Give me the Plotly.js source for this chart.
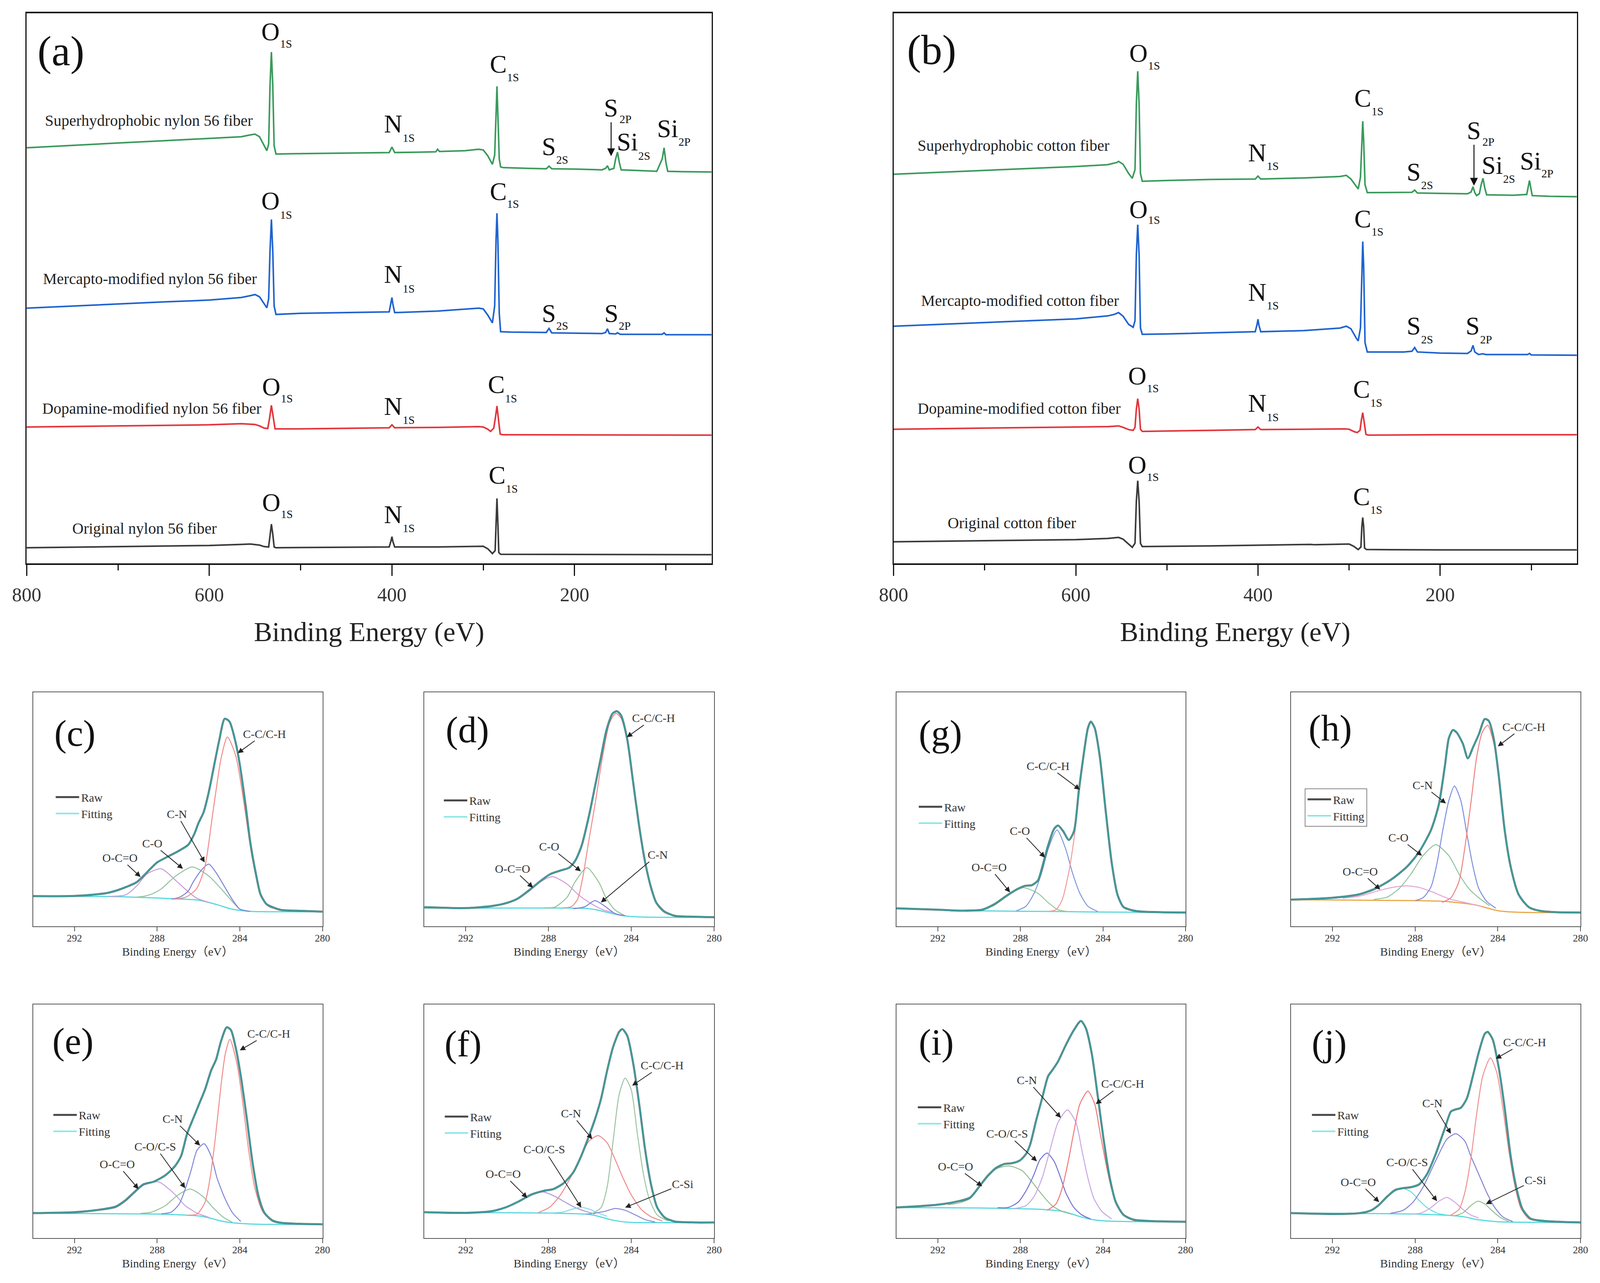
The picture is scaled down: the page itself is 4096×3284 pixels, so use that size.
<!DOCTYPE html>
<html><head><meta charset="utf-8">
<script src="https://cdn.plot.ly/plotly-3.0.1.min.js"></script>
<style>html,body{margin:0;padding:0;background:#fff}#chart{width:4096px;height:3284px}</style>
</head><body><div id="chart"></div>
<script>
// ===== DATA =====
// Survey spectra: [binding energy (eV), intensity (a.u., stacked offset)]
const nylonSuper = [[800,1130],[750,1137],[700,1143],[650,1149],[600,1155],[565,1160],[555,1165],[550,1167],[545,1160],[540,1135],[537,1122],[535,1140],[533.5,1300],[532,1390],[530.5,1300],[529,1135],[527,1113],[500,1114],[450,1116],[403,1117],[400,1132],[397,1117],[370,1118],[352,1119],[350,1126],[348,1120],[320,1122],[305,1126],[300,1124],[295,1108],[290,1085],[287.5,1110],[286,1220],[285,1297],[284,1220],[282.5,1100],[281,1078],[278,1076],[250,1074],[231,1073],[228,1080],[225,1073],[200,1072],[170,1070],[166,1074],[164,1081],[162,1070],[157,1074],[155,1100],[153,1118],[151,1090],[149,1070],[130,1068],[110,1066],[104,1100],[102,1130],[100,1090],[98,1066],[80,1065],[50,1064]];
const nylonMercapto = [[800,694],[750,700],[700,705],[650,711],[600,716],[565,723],[555,728],[550,731],[545,725],[540,705],[537,695],[535,720],[533.5,850],[532,935],[530.5,850],[529,700],[527,677],[500,680],[450,682],[403,684],[401,710],[400,723],[399,705],[397,682],[350,686],[305,694],[300,692],[295,675],[290,654],[287.5,700],[286,880],[285,952],[284,880],[282.5,680],[281,630],[270,629],[231,628],[228,639],[225,627],[200,626],[170,625],[166,628],[164,638],[162,625],[155,624],[153,627],[150,623],[104,623],[102,627],[100,622],[50,622]];
const nylonDopamine = [[800,371],[700,374],[600,377],[565,380],[550,378],[545,374],[540,368],[536,367],[534,395],[532,430],[530,395],[528,366],[500,366],[450,367],[403,369],[400,377],[397,369],[350,370],[305,372],[300,371],[295,365],[292,359],[288.5,368],[286.5,400],[285,428],[283.5,395],[281.5,352],[279,350],[200,350],[100,349],[50,349]];
const nylonOriginal = [[800,43],[700,46],[600,49],[565,52],[555,53],[545,50],[540,46],[535,45],[533.5,80],[532,107],[530.5,80],[529,45],[527,43],[450,44],[403,45],[401,62],[400,73],[399,60],[397,45],[350,45],[305,47],[300,47],[295,40],[290,27],[287,35],[286,110],[285,177],[284,110],[283,30],[281,25],[200,25],[100,24],[50,24]];
const cottonSuper = [[800,1058],[700,1068],[600,1079],[565,1084],[555,1090],[553,1093],[548,1085],[542,1060],[538,1047],[535,1070],[533.5,1250],[532,1338],[530.5,1250],[529,1060],[527,1039],[500,1041],[450,1044],[403,1045],[400,1053],[397,1045],[350,1048],[310,1052],[303,1055],[298,1045],[292,1025],[290,1018],[287.5,1050],[286,1150],[285,1202],[284,1150],[282.5,1030],[280,1008],[240,1008],[231,1009],[228,1015],[225,1007],[200,1006],[170,1005],[166,1010],[164,1024],[162,1008],[160,1000],[157,1005],[155,1030],[153,1047],[151,1020],[149,1002],[120,1001],[105,1003],[102,1041],[99,1000],[80,998],[50,997]];
const cottonMercapto = [[800,645],[700,655],[600,665],[565,673],[558,677],[553,682],[548,672],[542,650],[537,642],[535,660],[533.5,840],[532,921],[530.5,840],[529,640],[527,623],[500,624],[450,627],[403,630],[401,650],[400,664],[399,648],[397,630],[350,633],[310,640],[303,645],[298,638],[292,612],[290,605],[287.5,640],[286,810],[285,875],[284,810],[282.5,600],[280,575],[240,575],[231,577],[228,587],[225,575],[200,572],[170,571],[166,578],[164,593],[162,575],[158,568],[153,570],[150,568],[104,568],[102,571],[100,567],[50,566]];
const cottonDopamine = [[800,365],[700,368],[600,370],[565,372],[553,374],[548,370],[542,364],[537,362],[535,370],[533.5,420],[532,448],[530.5,420],[529,365],[527,359],[450,362],[403,364],[400,371],[397,364],[350,365],[305,366],[300,365],[294,358],[291,356],[288,362],[286.5,390],[285,410],[283.5,385],[281.5,351],[279,349],[200,350],[100,350],[50,350]];
const cottonOriginal = [[800,59],[700,62],[600,65],[565,68],[553,71],[548,66],[542,52],[538,44],[535,55],[533.5,170],[532,225],[530.5,170],[529,55],[527,46],[450,48],[350,51],[342,52],[338,51],[305,53],[300,53],[295,47],[290,38],[287,45],[286,100],[285,125],[284,100],[283,42],[281,38],[200,37],[100,37],[50,37]];

const surveyTicks = [800,600,400,200];
const surveyMinorTicks = [700,500,300,100];
const hiresTicks = [292,288,284,280];

// C1s high-resolution spectra: [binding energy (eV), intensity (% of frame)]
// (c) original nylon 56
const cEnv = [[294,12.9],[292,13.0],[290.5,14.1],[290,15.2],[289.5,16.8],[289,18.8],[288.5,23.0],[288,27.3],[287.5,29.7],[287,32.0],[286.5,34.8],[286.2,39.5],[286,44.1],[285.75,48.8],[285.5,57.4],[285.25,68.4],[285,79.3],[284.73,88.7],[284.5,87.5],[284.2,78.5],[284,69.1],[283.7,50.4],[283.5,36.3],[283.2,21.5],[283,13.7],[282.7,9.4],[282.3,7.8],[282,7.0],[281,6.6],[280,6.25]];
const cBg = [[294,12.9],[290,12.7],[288,12.1],[287,11.7],[286,11.2],[285.5,10.2],[285,9.0],[284.5,7.6],[284,6.8],[283.5,6.4],[283,6.25],[280,6.25]];
const cCC = [[287.2,11.6],[286.6,12.5],[286.1,16],[285.7,25],[285.3,48.8],[284.9,72],[284.6,80.9],[284.2,73],[283.8,52.7],[283.4,29.3],[283.0,13.7],[282.6,8.5],[282.0,7.0]];
const cCN = [[287.3,11.6],[286.9,12.5],[286.5,15],[286.25,19],[285.8,24.6],[285.5,26.6],[285.1,22.3],[284.73,16.8],[284.35,11.3],[284.0,7.4],[283.5,6.4]];
const cCO = [[289.0,12.5],[288.6,12.9],[288.2,14],[287.8,16],[287.1,21.5],[286.3,25.4],[285.5,21.5],[284.9,16],[284.35,10.5],[284.0,7.4],[283.5,6.4]];
const cOCO = [[290.3,12.8],[289.5,13.5],[288.95,17.6],[288.5,22.3],[287.8,24.6],[287.04,19.1],[286.55,15.2],[286.1,12.1],[285.5,10.2]];
// (d) dopamine nylon 56
const dEnv = [[294,8.2],[292,7.8],[290.8,8.6],[290.1,9.8],[289.5,11.8],[288.9,15.7],[288.36,19.6],[287.9,22.4],[287.4,23.9],[287,25.1],[286.7,28.2],[286.4,34.5],[286.05,47.1],[285.76,59.6],[285.47,72.2],[285.2,83.9],[284.9,91.0],[284.7,91.9],[284.5,90.2],[284.2,80.0],[283.93,62.7],[283.64,43.9],[283.35,28.2],[283.07,17.3],[282.8,10.2],[282.4,6.3],[281.9,4.5],[280.95,4.1],[280,3.9]];
const dBg = [[294,7.8],[287,7.8],[286,7.5],[285.5,6.7],[285,5.6],[284.5,4.7],[284,4.2],[283,3.9],[280,3.9]];
const dCC = [[287.3,7.9],[286.9,8.4],[286.6,11.5],[286.34,21.2],[286.05,36.9],[285.76,51.8],[285.4,72],[285.05,87],[284.75,91.0],[284.5,89],[284.2,79.2],[283.64,43.1],[283.07,16.5],[282.7,8.5],[282.4,5.9],[281.9,4.4]];
const dCO = [[288.2,7.9],[287.7,8.2],[287.1,12.5],[286.73,18.8],[286.15,25.1],[285.57,18.8],[285.2,11.8],[284.8,7.1],[284.3,4.5]];
const dOCO = [[290.8,8.4],[290.1,9.6],[289.5,11.6],[288.9,15.3],[288.36,19.2],[287.8,21.2],[287.1,18.0],[286.53,13.3],[285.96,9.8],[285.4,7.2],[284.9,5.9]];
const dCN = [[286.8,7.5],[286.24,8.4],[285.76,11.0],[285.28,8.6],[284.8,5.5],[284.3,4.5]];
// (g) original cotton
const gEnv = [[294,7.7],[292,7.1],[290.8,6.7],[289.85,7.1],[289.27,9.4],[288.7,12.9],[288.1,16.1],[287.77,17.3],[287.44,17.6],[287.15,19.6],[286.95,25.1],[286.66,34.5],[286.37,41.6],[286.18,43.1],[285.94,40.8],[285.65,36.9],[285.4,40.8],[285.17,58.0],[284.93,73.7],[284.73,84.7],[284.59,87.5],[284.4,84.7],[284.15,72.2],[283.86,48.6],[283.57,26.7],[283.29,13.3],[283,8.2],[282.5,6.7],[282.13,6.3],[281.16,6.0],[280,5.9]];
const gBg = [[294,7.7],[292,7.0],[290,6.6],[286,6.3],[284,6.1],[280,5.9]];
const gCC = [[286.6,6.4],[286.28,7.1],[285.99,11.0],[285.7,21.2],[285.4,37.6],[285.17,56],[284.93,73.5],[284.73,84.5],[284.59,87.1],[284.4,84.5],[284.15,72.0],[283.86,48.4],[283.57,26.5],[283.29,13.1],[283.0,8.0],[282.5,6.5],[282.0,6.2]];
const gCO = [[288.2,6.6],[287.73,8.6],[287.34,14.1],[286.95,23.5],[286.66,32.9],[286.23,41.2],[285.8,32.9],[285.5,23.5],[285.12,14.1],[284.73,8.6],[284.25,6.3]];
const gOCO = [[290.3,6.7],[289.85,7.0],[289.27,9.0],[288.7,12.5],[288.2,15.5],[287.82,16.5],[287.15,14.1],[286.66,10.2],[286.18,7.1],[285.7,6.3]];
// (h) dopamine cotton
const hEnv = [[294,11.4],[292,12.2],[290.7,13.7],[289.93,16.1],[289.16,20.0],[288.39,25.5],[287.81,31.8],[287.23,41.2],[286.85,52.2],[286.56,68.6],[286.37,80.4],[286.17,83.9],[285.98,82.7],[285.69,78.0],[285.45,71.8],[285.2,76.5],[284.92,82.0],[284.63,88.6],[284.44,87.8],[284.2,80.4],[283.96,64.7],[283.67,41.2],[283.38,25.5],[283,13.7],[282.5,8.2],[282,6.7],[281.1,6.0],[280,5.9]];
const hBg = [[294,11.4],[288,11.0],[287,10.8],[286,10.2],[285,9.0],[284.5,7.8],[284,6.7],[283,6.0],[280,5.9]];
const hCC = [[286.7,10.2],[286.27,12.2],[285.88,19.2],[285.6,33.3],[285.3,52.9],[285.02,72.5],[284.75,83],[284.49,85.9],[284.15,76.5],[283.86,56.9],[283.57,35.7],[283.19,19.2],[282.8,10.6],[282.2,6.8]];
const hCN = [[288.0,11.0],[287.62,12.2],[287.23,16.9],[286.94,27.1],[286.66,41.2],[286.37,53.7],[286.1,60.0],[285.79,53.7],[285.5,39.6],[285.2,25.5],[284.92,16.1],[284.53,10.6],[284.1,7.8]];
const hCO = [[290.0,11.5],[289.35,12.5],[288.78,16.1],[288.2,22.4],[287.62,30.2],[287.0,34.9],[286.37,30.2],[285.88,22.4],[285.4,16.1],[284.92,12.2],[284.4,8.8]];
const hOCO = [[291.5,12.0],[290.7,12.9],[289.74,15.3],[289.0,16.8],[288.39,17.3],[287.8,16.6],[287.23,14.9],[286.37,11.8],[285.4,9.8],[284.8,8.5]];
// (e) mercapto nylon 56
const eEnv = [[294,10.7],[292,11.1],[290.68,12.3],[290,13.5],[289.53,16.2],[289.14,19.4],[288.66,23.0],[288.18,24.1],[287.6,26.9],[287.13,30.9],[286.84,35.2],[286.55,44.7],[286.26,51.1],[285.97,57.4],[285.68,63.7],[285.39,71.7],[285.15,76.4],[284.91,84.3],[284.63,90.3],[284.43,89.1],[284.19,81.2],[283.95,69.3],[283.66,51.1],[283.38,32.1],[283.09,17.8],[282.8,10.7],[282.41,7.5],[282.03,6.6],[281.07,6.1],[280,5.9]];
const eBg = [[294,10.7],[288,10.3],[287,10.0],[286,9.5],[285.5,8.7],[285,7.5],[284.5,6.7],[284,6.3],[283,5.9],[280,5.9]];
const eCC = [[286.5,9.8],[286.07,10.3],[285.68,15.4],[285.44,25.7],[285.2,41.6],[284.91,65.3],[284.7,79],[284.48,85.1],[284.14,74.8],[283.85,57.4],[283.57,37.6],[283.28,21.8],[282.9,11.5],[282.4,7.1],[282.0,6.4]];
const eCN = [[287.8,10.4],[287.32,11.1],[286.93,14.6],[286.64,21.0],[286.36,28.9],[286.07,37.6],[285.73,40.4],[285.39,35.2],[285.1,25.7],[284.72,17.0],[284.34,10.7],[283.95,7.1]];
const eCOS = [[288.8,10.6],[288.28,11.1],[287.6,13.9],[287.03,18.2],[286.4,21.0],[285.78,17.8],[285.3,13.1],[284.82,9.1],[284.35,6.7]];
const eOCO = [[290.7,12.0],[290.0,13.1],[289.53,15.8],[289.14,19.0],[288.66,22.6],[287.94,24.1],[287.22,19.4],[286.64,13.9],[286.07,10.7],[285.5,8.9]];
// (f) superhydrophobic nylon 56
const fEnv = [[294,11.1],[291.97,10.8],[290.77,11.5],[290.09,13.1],[289.42,15.8],[288.84,18.6],[288.26,20.2],[287.77,21.0],[287.29,23.4],[286.81,28.1],[286.42,35.2],[286.04,43.9],[285.75,51.1],[285.46,59.8],[285.17,71.7],[284.88,81.9],[284.59,88.3],[284.44,89.5],[284.2,86.7],[283.91,74.8],[283.62,57.4],[283.33,37.6],[283.04,22.6],[282.75,13.1],[282.37,8.7],[281.89,7.1],[280.92,6.7],[280,6.7]];
const fBg = [[294,11.1],[288,10.7],[287,10.5],[286,10.1],[285.5,9.1],[285,7.9],[284.5,7.1],[284,6.7],[280,6.7]];
const fCC = [[285.9,10.5],[285.46,13.1],[285.17,21.8],[284.88,41.6],[284.59,61.4],[284.3,68.5],[284.01,63.7],[283.72,45.5],[283.43,28.1],[283.14,17.0],[282.75,9.9],[282.2,7.3]];
const fCN = [[288.5,10.9],[287.97,13.1],[287.48,17.8],[287.0,24.9],[286.52,33.6],[286.04,41.6],[285.6,43.9],[285.17,40.8],[284.78,33.6],[284.4,25.7],[284.01,18.6],[283.52,12.3],[283.04,9.1],[282.5,7.3]];
const fOCO = [[290.8,11.3],[290.09,12.9],[289.42,15.6],[288.84,18.4],[288.26,19.8],[287.68,17.8],[287.2,15.4],[286.71,13.1],[286.23,11.5],[285.75,10.3]];
const fCOS = [[288.0,10.7],[287.29,11.2],[286.85,12.4],[286.42,13.2],[286.0,12.3],[285.75,11.3],[285.17,9.3]];
const fCSi = [[286.2,10.2],[285.75,10.7],[285.26,11.5],[284.78,12.7],[284.3,11.9],[283.8,9.9],[283.33,7.9],[282.85,6.9]];
// (i) mercapto cotton
const iEnv = [[294,13.1],[292,14.3],[291,15.8],[290.43,17.4],[289.95,22.6],[289.56,26.9],[289.17,30.1],[288.79,31.7],[288.4,32.1],[288.02,33.3],[287.73,36.0],[287.53,40.0],[287.24,50.3],[286.95,59.8],[286.66,69.3],[286.47,71.7],[286.18,75.6],[285.8,82.7],[285.41,89.1],[285.07,93.0],[284.83,89.9],[284.54,78.8],[284.25,60.6],[283.96,41.6],[283.67,25.7],[283.38,15.4],[283,9.9],[282.51,7.9],[281.93,7.4],[280.97,7.1],[280,7.0]];
const iBg = [[294,13.1],[290,12.9],[288.5,12.7],[287,12.3],[286,11.5],[285.5,10.3],[285,8.9],[284.5,7.9],[284,7.4],[283,7.1],[280,7.0]];
const iCC = [[286.7,11.9],[286.28,14.6],[285.99,21.0],[285.7,32.1],[285.41,45.5],[285.12,57.4],[284.73,62.9],[284.4,57.4],[284.15,45.5],[283.86,32.1],[283.58,21.0],[283.28,13.9],[282.9,9.1],[282.4,7.3]];
const iCN = [[288.3,12.6],[287.73,13.9],[287.34,17.8],[286.95,25.7],[286.57,37.6],[286.18,49.5],[285.72,54.9],[285.31,49.5],[285.02,37.6],[284.73,25.7],[284.44,17.0],[284.06,11.5],[283.58,8.2]];
const iCOS = [[289.1,13.0],[288.6,13.1],[288.11,15.4],[287.73,20.2],[287.34,27.3],[287.05,33.6],[286.71,36.4],[286.37,32.9],[286.08,26.5],[285.8,19.4],[285.41,13.1],[285.02,9.9],[284.6,8.2]];
const iOCO = [[291.5,14.3],[291.0,15.0],[290.43,17.0],[289.95,22.2],[289.56,26.5],[289.17,29.7],[288.55,30.9],[287.92,28.9],[287.44,24.1],[286.95,18.6],[286.47,13.9],[285.99,11.5],[285.5,10.2]];
// (j) superhydrophobic cotton
const jEnv = [[294,10.7],[292,10.3],[290.7,10.7],[290.13,11.9],[289.74,14.3],[289.35,17.8],[288.97,20.6],[288.58,21.4],[288.2,21.8],[287.81,23.0],[287.43,27.3],[287.04,35.2],[286.56,47.1],[286.27,54.2],[286.08,55.0],[285.79,55.8],[285.5,59.8],[285.21,69.3],[284.92,79.6],[284.63,87.5],[284.49,88.3],[284.25,85.1],[283.96,73.2],[283.67,55.8],[283.38,35.2],[283.09,21.0],[282.8,12.3],[282.41,8.3],[281.84,7.4],[280.87,6.9],[280,6.7]];
const jBg = [[294,10.7],[290,10.5],[288,10.3],[287,10.0],[286,9.5],[285.5,8.9],[285,7.9],[284.5,7.4],[284,7.0],[283,6.8],[280,6.7]];
const jCC = [[286.3,9.7],[285.88,12.3],[285.6,19.4],[285.31,33.6],[285.02,53.4],[284.73,69.3],[284.36,77.2],[284.05,70.9],[283.76,55.8],[283.47,37.6],[283.18,22.6],[282.9,13.1],[282.5,8.3],[282.0,7.3]];
const jCN = [[289.2,10.6],[288.58,11.9],[288.1,15.4],[287.62,21.8],[287.23,28.9],[286.85,36.0],[286.46,42.4],[286.03,44.7],[285.6,41.6],[285.31,35.2],[284.92,27.3],[284.53,19.4],[284.15,13.1],[283.76,9.1],[283.28,7.1]];
const jCOS = [[288.2,10.3],[287.72,10.7],[287.23,13.1],[286.85,15.8],[286.46,17.4],[286.08,15.4],[285.69,12.3],[285.31,9.9],[284.92,8.6]];
const jOCO = [[290.7,10.7],[290.13,11.9],[289.74,14.3],[289.35,17.8],[288.68,21.4],[288.2,19.8],[287.81,16.2],[287.43,13.1],[286.94,10.7],[286.4,9.8]];
const jCSi = [[286.1,9.5],[285.69,10.8],[285.31,13.9],[284.97,15.8],[284.63,14.6],[284.25,11.5],[283.86,8.7],[283.47,7.1]];

// ===== DRAWING =====
const FONT = '"Liberation Serif", "Times New Roman", "Noto Sans CJK SC", serif';
const PEAK_SIZE = 65, SUB_SIZE = 29;
const LETTER_W = {O: 48, N: 48, C: 44, S: 37, Si: 55};   // advance of the element symbol, px
const traces = [];
const annotations = [];
const layout = {
  width: 4096, height: 3284, margin: {l:0, r:0, t:0, b:0},
  paper_bgcolor: '#ffffff', plot_bgcolor: '#ffffff',
  font: {family: FONT, color: '#222'}, annotations: annotations, showlegend: true
};
const sfx = n => (n === 1 ? '' : String(n));
const X = arr => arr.map(p => p[0]);
const Y = arr => arr.map(p => p[1]);

function line(data, color, width, n, shape) {
  return {type: 'scatter', mode: 'lines', x: X(data), y: Y(data), xaxis: 'x' + sfx(n), yaxis: 'y' + sfx(n),
    line: {color: color, width: width, shape: shape || 'linear', smoothing: 0.7}, showlegend: false, hoverinfo: 'skip'};
}

// ---- survey panels ----
function surveyPanel(n, xdom, spectra, peakLabels, names, letter, arrowLabel) {
  layout['xaxis' + sfx(n)] = {domain: xdom, anchor: 'y' + sfx(n), range: [800, 50], tickvals: surveyTicks,
    ticks: 'outside', ticklen: 28, tickwidth: 3, tickcolor: '#111', showline: true, mirror: true, linewidth: 4, linecolor: '#111',
    showgrid: false, zeroline: false, tickfont: {family: FONT, size: 50, color: '#333'}, ticklabelstandoff: 5,
    minor: {tickvals: surveyMinorTicks, ticks: 'outside', ticklen: 14, tickwidth: 3, tickcolor: '#111', showgrid: false},
    title: {text: 'Binding Energy (eV)', font: {family: FONT, size: 70, color: '#222'}, standoff: 44}, fixedrange: true};
  layout['yaxis' + sfx(n)] = {domain: [0.56078, 0.98979], anchor: 'x' + sfx(n), range: [0, 1496], showticklabels: false,
    ticks: '', showline: true, mirror: true, linewidth: 3, linecolor: '#111', showgrid: false, zeroline: false, fixedrange: true};
  spectra.forEach(([d, c]) => traces.push(line(d, c, 4, n)));
  const xr = 'x' + sfx(n), yr = 'y' + sfx(n);
  // element symbol + subscript (orbital) drawn as two texts
  peakLabels.forEach(([m, s, x, ym, ys]) => {
    annotations.push({xref: xr, yref: yr, x: x, y: ym, xanchor: 'left', yanchor: 'middle', showarrow: false, text: m,
      font: {family: FONT, size: PEAK_SIZE, color: '#111'}});
    annotations.push({xref: xr, yref: yr, x: x, y: ys, xanchor: 'left', yanchor: 'middle', showarrow: false, text: s,
      xshift: LETTER_W[m], font: {family: FONT, size: SUB_SIZE, color: '#111'}});
  });
  names.forEach(([t, x, y]) => annotations.push({xref: xr, yref: yr, x: x, y: y, xanchor: 'left', yanchor: 'middle',
    showarrow: false, text: t, font: {family: FONT, size: 40, color: '#222'}}));
  annotations.push({xref: xr, yref: yr, x: letter[1], y: letter[2], xanchor: 'left', yanchor: 'middle', showarrow: false,
    text: letter[0], font: {family: FONT, size: 108, color: '#111'}});
  // S2P label: element symbol carries the downward arrow, subscript drawn beside it
  const [m, s, sx, sy, subY, hy] = arrowLabel;
  annotations.push({xref: xr, yref: yr, axref: xr, ayref: yr, x: sx, y: hy, ax: sx, ay: sy, text: m,
    font: {family: FONT, size: PEAK_SIZE, color: '#111'}, showarrow: true, arrowhead: 2, arrowsize: 1.6, arrowwidth: 2.5,
    arrowcolor: '#111', standoff: 0, borderpad: 0});
  annotations.push({xref: xr, yref: yr, x: sx, y: subY, xanchor: 'left', yanchor: 'middle', showarrow: false, text: s,
    xshift: LETTER_W[m] / 2 + 2, borderpad: 0, font: {family: FONT, size: SUB_SIZE, color: '#111'}});
}

surveyPanel(1, [0.01666, 0.44473],
  [[nylonOriginal, '#3a3a3a'], [nylonDopamine, '#e2353b'], [nylonMercapto, '#1f63cf'], [nylonSuper, '#3a9a5c']],
  [['O','1S',544,1446,1413],['N','1S',409.7,1194.5,1157],['C','1S',293.7,1357,1321],['S','2S',236.7,1133,1097],['Si','2S',154.6,1146,1108],['Si','2P',110.7,1182,1146],
   ['O','1S',544,985.5,948],['N','1S',409.7,786,747],['C','1S',293.7,1011,977],['S','2S',236.7,679.5,646],['S','2P',168.5,679.5,646],
   ['O','1S',543,480.5,449],['N','1S',409.7,427,390],['C','1S',295.8,486.5,449],
   ['O','1S',543,166,134],['N','1S',409.7,133.5,96],['C','1S',294.8,240,203]],
  [['Superhydrophobic nylon 56 fiber',781,1204],['Mercapto-modified nylon 56 fiber',783,774],['Dopamine-modified nylon 56 fiber',784,421],['Original nylon 56 fiber',751,95]],
  ['(a)', 788.9, 1392], ['S', '2P', 160.0, 1238, 1208, 1107]);

surveyPanel(2, [0.55849, 0.98552],
  [[cottonOriginal, '#3a3a3a'], [cottonDopamine, '#e2353b'], [cottonMercapto, '#1f63cf'], [cottonSuper, '#3a9a5c']],
  [['O','1S',542,1387,1353],['N','1S',411.6,1116,1080],['C','1S',295,1265,1229],['S','2S',237.6,1064,1028],['Si','2S',155.3,1082,1045],['Si','2P',113.3,1094.5,1060],
   ['O','1S',542,962.5,934],['N','1S',411.6,737,701],['C','1S',295,936.5,902],['S','2S',237.6,646.5,609],['S','2P',173,646.5,609],
   ['O','1S',543.6,510,476],['N','1S',411.6,436,398],['C','1S',296.6,474.5,437],
   ['O','1S',543.6,268.5,235],['C','1S',296.6,182.5,146]],
  [['Superhydrophobic cotton fiber',774.6,1136],['Mercapto-modified cotton fiber',770.5,714],['Dopamine-modified cotton fiber',774.6,421],['Original cotton fiber',741.5,110]],
  ['(b)', 785.9, 1396], ['S', '2P', 162.9, 1177, 1146, 1027]);

// ---- high-resolution C1s panels ----
const ROW1 = [0.2780, 0.4604], ROW2 = [0.0350, 0.2170];
const COL = [[0.02068, 0.20156], [0.26523, 0.44633], [0.56033, 0.74098], [0.80694, 0.98782]];
const hires = [
  {n:3, xd:COL[0], yd:ROW1, letter:['(c)',291.98,82.4], env:cEnv, bg:cBg,
   comps:[[cOCO,'#c99bd9'],[cCO,'#93c3a0'],[cCN,'#7d83d6'],[cCC,'#f28b8b']],
   labels:[['C-C/C-H',282.81,82.3,284.1,74],['C-N',287.05,48.0,285.7,27.3],['C-O',288.24,35.5,286.75,24.6],['O-C=O',289.8,29.3,288.8,21.1]],
   leg:[0.03360, 0.38663]},
  {n:4, xd:COL[1], yd:ROW1, letter:['(d)',291.93,83.9], env:dEnv, bg:dBg,
   comps:[[dOCO,'#d39ad6'],[dCO,'#93c393'],[dCN,'#7f7fe0'],[dCC,'#f28b8b']],
   labels:[['C-C/C-H',282.92,89.0,284.22,80.8],['C-O',287.96,34.1,286.44,23.5],['O-C=O',289.74,24.7,288.75,16.5],['C-N',282.73,30.6,285.47,10.2]],
   leg:[0.27618, 0.38407]},
  {n:5, xd:COL[2], yd:ROW1, letter:['(g)',291.88,82.4], env:gEnv, bg:gBg,
   comps:[[gOCO,'#9cc99c'],[gCO,'#7f9ad8'],[gCC,'#f29a9a']],
   labels:[['C-C/C-H',286.66,68.6,285.12,58.4],['C-O',288.02,40.8,286.81,29.4],['O-C=O',289.51,25.3,288.5,14.5]],
   leg:[0.57300, 0.37911]},
  {n:6, xd:COL[3], yd:ROW1, letter:['(h)',292.1,84.7], env:hEnv, bg:hBg, bgColor:'#e8a848', box:true,
   comps:[[hOCO,'#e3a3d6'],[hCO,'#8fc49c'],[hCN,'#7b8fe0'],[hCC,'#f08080']],
   labels:[['C-C/C-H',282.75,85.3,284.0,76.9],['C-N',287.64,60.4,286.51,52.5],['C-O',288.8,38.0,287.67,30.2],['O-C=O',290.66,23.5,289.69,15.7]],
   leg:[0.81553, 0.38551]},
  {n:7, xd:COL[0], yd:ROW2, letter:['(e)',292.08,84.3], env:eEnv, bg:eBg,
   comps:[[eOCO,'#c9a0dc'],[eCOS,'#93c39f'],[eCN,'#7f86d8'],[eCC,'#f28b8b']],
   labels:[['C-C/C-H',282.6,87.6,284.0,80.4],['C-N',287.24,51.1,285.92,39.6],['C-O/C-S',288.09,39.2,286.64,21.4],['O-C=O',289.93,31.7,288.9,21.0]],
   leg:[0.03213, 0.13895]},
  {n:8, xd:COL[1], yd:ROW2, letter:['(f)',292.12,83.1], env:fEnv, bg:fBg,
   comps:[[fOCO,'#b096d6'],[fCOS,'#7fdde6'],[fCSi,'#8a8ad8'],[fCN,'#f08a8a'],[fCC,'#9cc3a3']],
   labels:[['C-C/C-H',282.51,74.0,283.96,65.3],['C-N',286.92,53.4,285.89,42.4],['C-O/C-S',288.21,38.0,286.42,13.1],['O-C=O',290.19,27.5,289.03,17.2],['C-Si',281.52,23.1,284.3,13.1]],
   leg:[0.27676, 0.13767]},
  {n:9, xd:COL[2], yd:ROW2, letter:['(i)',292.07,83.9], env:iEnv, bg:iBg,
   comps:[[iOCO,'#94bc94'],[iCOS,'#6f74d2'],[iCN,'#c8a6e2'],[iCC,'#f07878']],
   labels:[['C-C/C-H',283.04,66.1,284.35,57.4],['C-N',287.68,67.7,286.04,51.5],['C-O/C-S',288.64,44.7,287.2,32.9],['O-C=O',291.15,30.7,289.85,22.2]],
   leg:[0.57242, 0.14485]},
  {n:10, xd:COL[3], yd:ROW2, letter:['(j)',292.15,83.5], env:jEnv, bg:jBg,
   comps:[[jOCO,'#5fe2e2'],[jCOS,'#d3a6e3'],[jCSi,'#8fc48f'],[jCN,'#8383d2'],[jCC,'#f29090']],
   labels:[['C-C/C-H',282.7,83.9,284.1,76.8],['C-N',287.16,57.8,286.27,44.7],['C-O/C-S',288.39,32.5,286.94,15.8],['O-C=O',290.75,24.1,289.74,15.4],['C-Si',282.19,24.9,284.58,14.6]],
   leg:[0.81875, 0.13895]}
];

hires.forEach((p, k) => {
  const n = p.n, xr = 'x' + n, yr = 'y' + n;
  const legKey = k === 0 ? 'legend' : 'legend' + (k + 1);
  layout['xaxis' + n] = {domain: p.xd, anchor: yr, range: [294, 280], tickvals: hiresTicks, ticks: 'outside', ticklen: 11,
    tickwidth: 2, tickcolor: '#555', showline: true, mirror: true, linewidth: 2, linecolor: '#555', showgrid: false, zeroline: false,
    tickfont: {family: FONT, size: 26, color: '#333'}, ticklabelstandoff: -5,
    title: {text: 'Binding Energy（eV）', font: {family: FONT, size: 30, color: '#333'}, standoff: 10}, fixedrange: true};
  layout['yaxis' + n] = {domain: p.yd, anchor: xr, range: [0, 100], showticklabels: false, ticks: '', showline: true, mirror: true,
    linewidth: 2, linecolor: '#555', showgrid: false, zeroline: false, fixedrange: true};
  traces.push(line(p.bg, p.bgColor || '#58d8de', 3, n, 'spline'));
  p.comps.forEach(([d, c]) => traces.push(line(d, c, 2.5, n, 'spline')));
  const raw = line(p.env, '#474747', 5, n, 'spline');
  raw.name = 'Raw'; raw.showlegend = true; raw.legend = legKey;
  const fit = line(p.env, 'rgba(60,215,215,0.6)', 4, n, 'spline');
  fit.name = 'Fitting'; fit.showlegend = true; fit.legend = legKey;
  traces.push(raw, fit);
  layout[legKey] = {x: p.leg[0], y: p.leg[1], xanchor: 'left', yanchor: 'top', bgcolor: p.box ? '#ffffff' : 'rgba(0,0,0,0)',
    bordercolor: '#888', borderwidth: p.box ? 2 : 0, font: {family: FONT, size: 30, color: '#333'}, tracegroupgap: 0, itemwidth: 60};
  annotations.push({xref: xr, yref: yr, x: p.letter[1], y: p.letter[2], xanchor: 'center', yanchor: 'middle', showarrow: false,
    text: p.letter[0], font: {family: FONT, size: 95, color: '#111'}});
  // each component label sits at its text position and points with an arrow to its curve
  p.labels.forEach(([t, tx, ty, hx, hy]) => annotations.push({xref: xr, yref: yr, axref: xr, ayref: yr, x: hx, y: hy, ax: tx, ay: ty,
    text: t, font: {family: FONT, size: 30, color: '#333'}, showarrow: true, arrowhead: 2, arrowsize: 1.4, arrowwidth: 2,
    arrowcolor: '#222', standoff: 0}));
});

Plotly.newPlot('chart', traces, layout, {staticPlot: true, displayModeBar: false});
</script>
</body></html>
